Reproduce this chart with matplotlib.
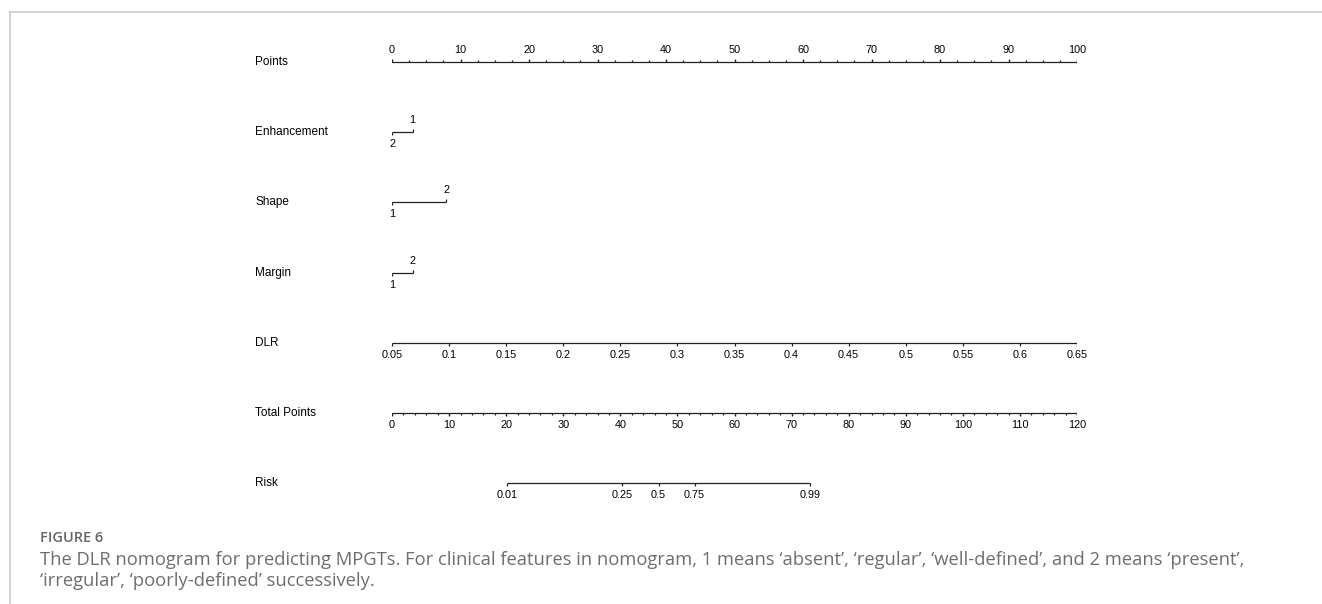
import matplotlib.pyplot as plt
from matplotlib.transforms import blended_transform_factory
from matplotlib.lines import Line2D

plt.rcParams['font.family'] = ['Liberation Sans', 'DejaVu Sans']

# nomogram rows
row_labels = ['Points', 'Enhancement', 'Shape', 'Margin', 'DLR', 'Total Points', 'Risk']

# points scale
points_major = [0, 10, 20, 30, 40, 50, 60, 70, 80, 90, 100]
points_minor = [i * 2.5 for i in range(41)]

# categorical predictors: level labels and their points
enh_levels = ['1', '2']
enh_points = [3.0, 0.0]
shape_levels = ['1', '2']
shape_points = [0.0, 7.9]
margin_levels = ['1', '2']
margin_points = [0.0, 3.0]

# DLR continuous predictor
dlr_ticks = [0.05, 0.1, 0.15, 0.2, 0.25, 0.3, 0.35, 0.4, 0.45, 0.5, 0.55, 0.6, 0.65]
dlr_min, dlr_max = 0.05, 0.65

# total points
total_major = [0, 10, 20, 30, 40, 50, 60, 70, 80, 90, 100, 110, 120]
total_minor = list(range(0, 121, 2))
total_max = 120

# risk labels and where they sit on the total points scale
risk_labels = ['0.01', '0.25', '0.5', '0.75', '0.99']
risk_total = [20.1, 40.3, 46.7, 53.0, 73.2]

W, H = 1322, 604
fig = plt.figure(figsize=(W / 100, H / 100), dpi=100)

# axes: x in points (0-100), rows 70 px apart, first row at y=62
row_px = 70.2
top_px = 62 - row_px / 2
ax = fig.add_axes([392 / W, 1 - (top_px + 7 * row_px) / H, 685 / W, 7 * row_px / H])
ax.set_xlim(0, 100)
ax.set_ylim(6.5, -0.5)
ax.axis('off')

px = 1 / row_px          # one pixel in row units
tick = 3 * px
mtick = 1.8 * px
off = 12 * px
lc = '#222222'
lw = 0.9
fs = 7.8

tr = blended_transform_factory(fig.transFigure, ax.transData)
for i, lab in enumerate(row_labels):
    ax.text(255 / W, i, lab, transform=tr, fontsize=8.5, va='center', ha='left')


def scale_row(y, major_pos, major_lab, minor_pos=None, up=False):
    sgn = -1 if up else 1
    ax.plot([min(major_pos), max(major_pos)], [y, y], color=lc, lw=lw, solid_capstyle='butt')
    ax.vlines(major_pos, y, y + sgn * tick, color=lc, lw=lw)
    if minor_pos is not None:
        ax.vlines(minor_pos, y, y + sgn * mtick, color=lc, lw=lw)
    for p, l in zip(major_pos, major_lab):
        ax.text(p, y + sgn * off, l, ha='center', va='center', fontsize=fs)


# Points
scale_row(0, points_major, [str(v) for v in points_major], points_minor, up=True)


def cat_row(y, levels, pts):
    ax.plot([min(pts), max(pts)], [y, y], color=lc, lw=lw, solid_capstyle='butt')
    for l, p in zip(levels, pts):
        up = p == max(pts)
        sgn = -1 if up else 1
        ax.vlines(p, y, y + sgn * tick, color=lc, lw=lw)
        ax.text(p, y + sgn * off, l, ha='center', va='center', fontsize=fs)


cat_row(1, enh_levels, enh_points)
cat_row(2, shape_levels, shape_points)
cat_row(3, margin_levels, margin_points)

# DLR
dlr_pos = [(v - dlr_min) / (dlr_max - dlr_min) * 100 for v in dlr_ticks]
scale_row(4, dlr_pos, [f'{v:g}' for v in dlr_ticks])

# Total points
scale_row(5, [v * 100 / total_max for v in total_major], [str(v) for v in total_major],
          [v * 100 / total_max for v in total_minor])

# Risk
scale_row(6, [v * 100 / total_max for v in risk_total], risk_labels)

# frame lines of the page
fig.add_artist(Line2D([9.5 / W, 9.5 / W], [0, 1 - 11.7 / H], color='#cccccc', lw=1.2,
                      transform=fig.transFigure))
fig.add_artist(Line2D([9.5 / W, 1], [1 - 11.7 / H, 1 - 11.7 / H], color='#cccccc', lw=1.2,
                      transform=fig.transFigure))

# caption
fig.text(40 / W, 1 - 538 / H, 'FIGURE 6', fontsize=10.5, color='#666666',
         family='Open Sans', weight='semibold', va='center')
fig.text(40 / W, 1 - 560 / H,
         'The DLR nomogram for predicting MPGTs. For clinical features in nomogram, 1 means \u2018absent\u2019, '
         '\u2018regular\u2019, \u2018well-defined\u2019, and 2 means \u2018present\u2019,',
         fontsize=13.2, color='#6e6e6e', family='Open Sans', va='center')
fig.text(40 / W, 1 - 581 / H,
         '\u2018irregular\u2019, \u2018poorly-defined\u2019 successively.',
         fontsize=13.2, color='#6e6e6e', family='Open Sans', va='center')

fig.savefig('out.png', dpi=100)
